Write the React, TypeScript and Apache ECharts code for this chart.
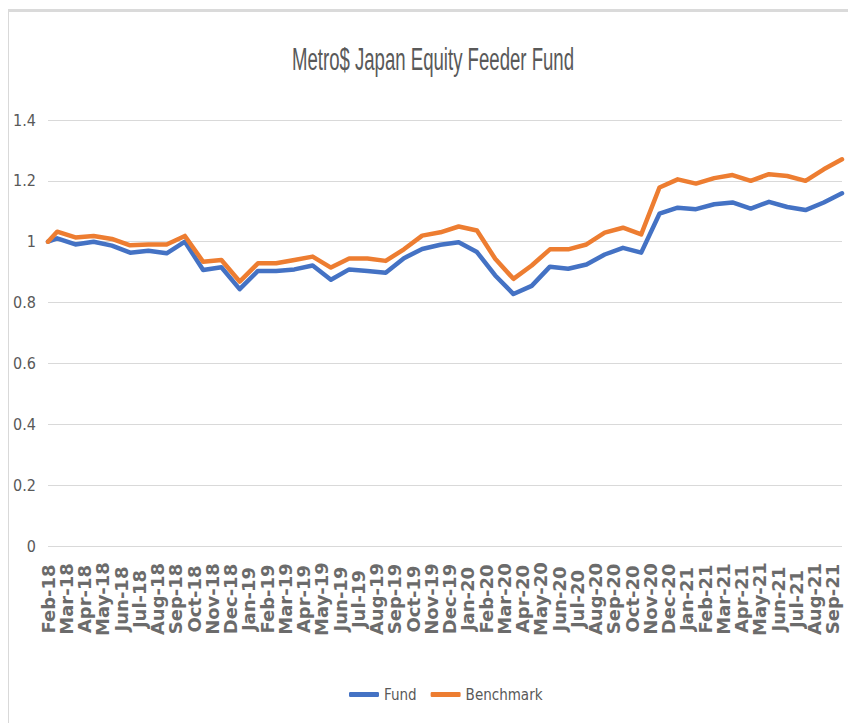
import React, { useEffect, useRef } from "react";
import * as echarts from "echarts";

const title = "Metro$ Japan Equity Feeder Fund";

const months = [
  "Feb-18", "Mar-18", "Apr-18", "May-18", "Jun-18", "Jul-18", "Aug-18", "Sep-18", "Oct-18", "Nov-18", "Dec-18",
  "Jan-19", "Feb-19", "Mar-19", "Apr-19", "May-19", "Jun-19", "Jul-19", "Aug-19", "Sep-19", "Oct-19", "Nov-19", "Dec-19",
  "Jan-20", "Feb-20", "Mar-20", "Apr-20", "May-20", "Jun-20", "Jul-20", "Aug-20", "Sep-20", "Oct-20", "Nov-20", "Dec-20",
  "Jan-21", "Feb-21", "Mar-21", "Apr-21", "May-21", "Jun-21", "Jul-21", "Aug-21", "Sep-21",
];

// First value is the inception point, then one value per month
const fund = [
  1.0, 1.011, 0.991, 1.0, 0.987, 0.964, 0.97, 0.962, 1.0, 0.907, 0.916, 0.844,
  0.904, 0.904, 0.909, 0.922, 0.875, 0.909, 0.904, 0.898, 0.946, 0.976, 0.99, 0.998,
  0.966, 0.889, 0.828, 0.855, 0.918, 0.911, 0.925, 0.958, 0.98, 0.964, 1.092, 1.112,
  1.107, 1.123, 1.129, 1.109, 1.131, 1.114, 1.104, 1.129, 1.159,
];

const benchmark = [
  1.0, 1.033, 1.014, 1.019, 1.009, 0.988, 0.991, 0.991, 1.019, 0.934, 0.94, 0.869,
  0.929, 0.929, 0.94, 0.951, 0.915, 0.945, 0.945, 0.937, 0.975, 1.02, 1.031, 1.05,
  1.037, 0.944, 0.878, 0.922, 0.975, 0.975, 0.991, 1.03, 1.046, 1.024, 1.178, 1.205,
  1.191, 1.209, 1.219, 1.2, 1.222, 1.216, 1.2, 1.238, 1.271,
];

const yTicks = { min: 0, max: 1.4, interval: 0.2 };

const NARROW = '"Liberation Sans Narrow", "DejaVu Sans Condensed", "Liberation Sans", sans-serif';

export default function App() {
  const ref = useRef<HTMLDivElement>(null);

  useEffect(() => {
    document.body.style.margin = "0";
    if (!ref.current) return;
    const chart = echarts.init(ref.current, undefined, { renderer: "svg" });

    const pos = (i: number) => (i === 0 ? 0 : i - 0.5);
    const fundData = fund.map((v, i) => [pos(i), v]);
    const benchData = benchmark.map((v, i) => [pos(i), v]);

    chart.setOption({
      animation: false,
      backgroundColor: "#ffffff",
      graphic: [
        {
          type: "rect",
          shape: { x: 8.5, y: 10.5, width: 900, height: 800 },
          style: { fill: "none", stroke: "#d9d9d9", lineWidth: 1 },
          silent: true,
        },
        {
          type: "line",
          shape: { x1: 8, y1: 10.5, x2: 848, y2: 10.5 },
          style: { stroke: "#dadada", lineWidth: 3 },
          silent: true,
        },
        {
          type: "text",
          x: 433,
          y: 59,
          scaleX: 0.6,
          style: {
            text: title,
            fontSize: 31,
            fontFamily: '"Liberation Sans", sans-serif',
            fill: "#595959",
            align: "center",
            verticalAlign: "middle",
            textAlign: "center",
            textVerticalAlign: "middle",
          },
        },
      ],
      grid: { left: 48, right: 6, top: 120, bottom: 177, containLabel: false },
      legend: {
        data: ["Fund", "Benchmark"],
        left: 344,
        top: 682,
        icon: "roundRect",
        itemWidth: 30,
        itemHeight: 5,
        itemGap: 14,
        textStyle: { fontSize: 15, fontFamily: NARROW, color: "#595959" },
      },
      xAxis: {
        type: "value",
        min: 0,
        max: months.length - 0.5,
        interval: 1,
        axisLine: { show: false },
        axisTick: { show: false },
        splitLine: { show: false },
        axisLabel: {
          rotate: 90,
          margin: 53,
          align: "center",
          verticalAlign: "middle",
          fontSize: 18,
          fontWeight: "bold",
          fontFamily: '"DejaVu Sans", sans-serif',
          color: "#6b6b6b",
          showMinLabel: true,
          showMaxLabel: true,
          formatter: (v: number) => {
            const r = Math.round(v);
            return Math.abs(v - r) < 1e-6 && r >= 0 && r < months.length ? months[r] : "";
          },
        },
      },
      yAxis: {
        type: "value",
        min: yTicks.min,
        max: yTicks.max,
        interval: yTicks.interval,
        axisLine: { show: false },
        axisTick: { show: false },
        splitLine: { show: true, lineStyle: { color: "#d9d9d9", width: 1 } },
        axisLabel: {
          margin: 12,
          fontSize: 16,
          fontFamily: NARROW,
          color: "#595959",
        },
      },
      series: [
        {
          name: "Fund",
          type: "line",
          data: fundData,
          showSymbol: false,
          symbol: "none",
          lineStyle: { color: "#4472C4", width: 4.5, join: "round", cap: "round" },
          itemStyle: { color: "#4472C4" },
        },
        {
          name: "Benchmark",
          type: "line",
          data: benchData,
          showSymbol: false,
          symbol: "none",
          lineStyle: { color: "#ED7D31", width: 4.5, join: "round", cap: "round" },
          itemStyle: { color: "#ED7D31" },
        },
      ],
    });

    return () => chart.dispose();
  }, []);

  return <div ref={ref} style={{ width: 848, height: 723 }} />;
}
